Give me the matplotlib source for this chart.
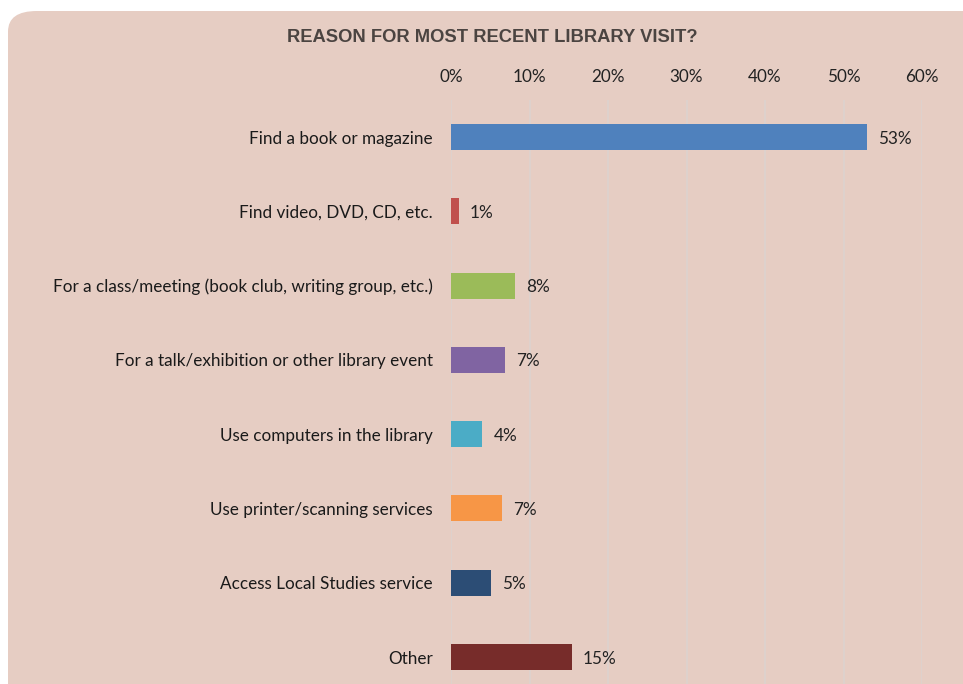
import matplotlib.pyplot as plt
from matplotlib.patches import FancyBboxPatch

# data
categories = [
    "Find a book or magazine",
    "Find video, DVD, CD, etc.",
    "For a class/meeting (book club, writing group, etc.)",
    "For a talk/exhibition or other library event",
    "Use computers in the library",
    "Use printer/scanning services",
    "Access Local Studies service",
    "Other",
]
values = [53.0, 1.0, 8.2, 6.9, 4.0, 6.5, 5.1, 15.4]
value_labels = ["53%", "1%", "8%", "7%", "4%", "7%", "5%", "15%"]
colors = ["#4f81bd", "#c0504d", "#9bbb59", "#8064a2",
          "#4bacc6", "#f79646", "#2c4d75", "#772c2a"]
xticks = [0, 10, 20, 30, 40, 50, 60]

W, H = 963, 684
fig = plt.figure(figsize=(W / 100, H / 100), dpi=100)
fig.patch.set_facecolor("white")

# rounded pink panel behind everything
panel = FancyBboxPatch((8 / W, 0.0 - 0.05), 1.2, (H - 11) / H + 0.05,
                       boxstyle="round,pad=0,rounding_size=0.03",
                       transform=fig.transFigure, facecolor="#e6cdc3",
                       edgecolor="none", zorder=-10)
fig.patches.append(panel)

fig.text(492 / W, 1 - 38 / H, "REASON FOR MOST RECENT LIBRARY VISIT?",
         ha="center", va="center", fontsize=13.2, fontweight="bold",
         color="#4b4441", family="Liberation Sans")

ax = fig.add_axes([451 / W, 0, (922 - 451) / W, (H - 100) / H])
ax.set_facecolor("none")
pos = list(range(len(categories)))
ax.barh(pos, values, height=0.35, color=colors, zorder=3)
ax.set_xlim(0, 60)
ax.set_ylim(7.363, -0.5)

ax.set_xticks(xticks)
ax.set_xticklabels([f"{t}%" for t in xticks], fontsize=12.3,
                   color="#222222", family="Lato")
ax.xaxis.tick_top()
ax.tick_params(axis="x", length=0, pad=11)
ax.grid(axis="x", color="#ddd2ce", linewidth=1.2, zorder=1)

ax.set_yticks(pos)
ax.set_yticklabels(categories, fontsize=12.3, color="#1a1a1a", family="Lato")
ax.tick_params(axis="y", length=0, pad=13)

for s in ax.spines.values():
    s.set_visible(False)

for p, v, lab in zip(pos, values, value_labels):
    ax.annotate(lab, (v, p), xytext=(8, 0), textcoords="offset points",
                va="center_baseline", ha="left", fontsize=12.3,
                color="#222222", family="Lato")

fig.savefig("out.png", dpi=100)
